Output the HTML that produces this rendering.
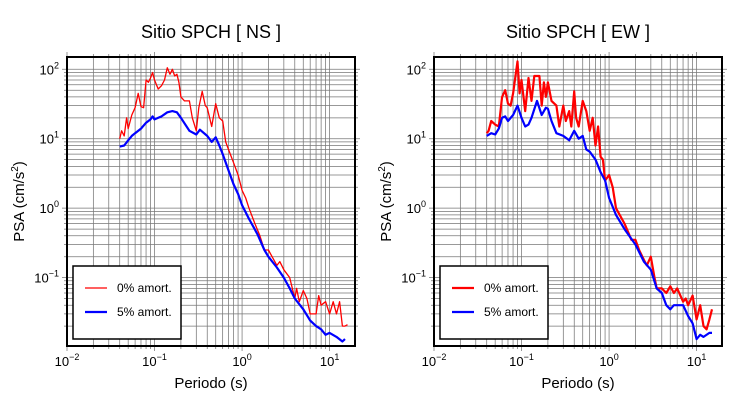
<!DOCTYPE html>
<html><head><meta charset="utf-8"><style>
body{margin:0;background:#fff}
svg{display:block;font-family:"Liberation Sans",sans-serif}
</style></head><body>
<svg id="c" width="730" height="400" xmlns="http://www.w3.org/2000/svg"></svg>
<script>
const nsT0=[0.04,0.042,0.045,0.048,0.05,0.055,0.06,0.065,0.07,0.075,0.08,0.085,0.09,0.095,0.1,0.11,0.12,0.13,0.14,0.15,0.16,0.17,0.18,0.19,0.2,0.22,0.25,0.27,0.3,0.32,0.35,0.38,0.4,0.45,0.5,0.55,0.6,0.65,0.7,0.8,0.9,1.0,1.1,1.2,1.4,1.6,1.8,2,2.2,2.5,2.7,3,3.5,4,4.2,4.5,5,5.5,6,7,7.5,8,9,10,11,12,13,14,15,16];
const nsV0=[10,13,11,20,14,22,28,45,29,28,70,65,75,90,70,52,58,70,105,85,100,80,85,65,40,35,35,20,13,28,48,30,28,15,32,20,18,9,7,4.5,3,1.8,1.4,1.0,0.6,0.4,0.25,0.25,0.2,0.15,0.17,0.13,0.1,0.05,0.07,0.045,0.065,0.05,0.03,0.03,0.055,0.04,0.045,0.03,0.045,0.03,0.045,0.02,0.02,0.021];
const nsT5=[0.04,0.045,0.05,0.055,0.06,0.07,0.08,0.09,0.095,0.1,0.12,0.14,0.16,0.18,0.2,0.25,0.3,0.33,0.4,0.45,0.5,0.55,0.6,0.7,0.8,0.9,1.0,1.2,1.5,1.8,2,2.5,3,3.5,4,5,6,7,8,9,10,12,14,15];
const nsV5=[7.7,8,9.5,11,12,14,17,19,21,19,21,24,25,24,20,13,11.5,13.5,11,9,10.5,8,6,3.5,2.2,1.6,1.1,0.7,0.42,0.25,0.2,0.14,0.1,0.07,0.05,0.035,0.024,0.02,0.018,0.015,0.016,0.014,0.012,0.013];
const ewT0=[0.04,0.042,0.045,0.05,0.055,0.06,0.065,0.07,0.075,0.08,0.09,0.095,0.1,0.11,0.12,0.13,0.14,0.15,0.16,0.17,0.18,0.19,0.2,0.22,0.25,0.27,0.3,0.32,0.35,0.37,0.4,0.42,0.45,0.5,0.55,0.6,0.65,0.7,0.75,0.8,0.85,0.9,1.0,1.1,1.2,1.5,1.8,2,2.2,2.5,2.7,3,3.3,3.5,4,4.5,5,5.5,6,7,7.5,8,9,10,11,12,13,14,15];
const ewV0=[12,13,18,16,15,40,50,32,30,45,130,45,70,25,75,35,80,80,80,30,65,40,65,35,30,15,30,18,25,15,48,20,15,35,25,13,20,8,15,5.5,5,2.5,3,2,1,0.6,0.35,0.35,0.25,0.18,0.15,0.2,0.1,0.07,0.07,0.06,0.075,0.06,0.07,0.045,0.05,0.04,0.055,0.025,0.04,0.02,0.018,0.025,0.035];
const ewT5=[0.04,0.045,0.05,0.055,0.06,0.065,0.07,0.08,0.09,0.1,0.11,0.12,0.13,0.15,0.17,0.19,0.2,0.22,0.25,0.3,0.35,0.4,0.45,0.5,0.55,0.6,0.7,0.8,0.9,1.0,1.2,1.5,2,2.5,3,3.5,4,4.5,5,5.5,6,7,8,9,10,11,12,14,15];
const ewV5=[11,12,11.5,14,20,21,18,22,30,20,15,16,20,35,22,28,27,18,12,11,9.5,13,10,11,7,6.5,5,3.3,2.5,1.4,0.8,0.5,0.3,0.17,0.13,0.07,0.06,0.04,0.035,0.04,0.04,0.04,0.028,0.022,0.013,0.015,0.014,0.016,0.016];
const titles=["Sitio SPCH [ NS ]","Sitio SPCH [ EW ]"];
const xTickExp=[-2,-1,0,1];
const yTickExp=[-1,0,1,2];

const NS="http://www.w3.org/2000/svg";
const svg=document.getElementById('c');
function mk(tag,attrs,parent){const e=document.createElementNS(NS,tag);for(const k in attrs)e.setAttribute(k,attrs[k]);(parent||svg).appendChild(e);return e;}
const XMIN=-2,XMAX=1.29,YMIN=-1.985,YMAX=2.177,TOP=57,BOT=346,W=288;
function panel(x0,title,t0,v0,t5,v5,redW,idx){
  const g=mk('g',{});
  
  
  const sx=v=>x0+(Math.log10(v)-XMIN)/(XMAX-XMIN)*W;
  const sy=v=>BOT-(Math.log10(v)-YMIN)/(YMAX-YMIN)*(BOT-TOP);
  const grid=mk('g',{stroke:'#777','stroke-width':0.75},g);
  
  
  for(let e=-2;e<=1;e++)for(let m=1;m<=9;m++){const v=m*Math.pow(10,e);if(Math.log10(v)>XMAX)continue;const x=sx(v);mk('line',{x1:x,x2:x,y1:TOP-(m==1?5:3),y2:BOT+(m==1?5:3)},grid);}
  for(let e=-2;e<=2;e++)for(let m=1;m<=9;m++){const v=m*Math.pow(10,e);const l=Math.log10(v);if(l<YMIN||l>YMAX)continue;const y=sy(v);mk('line',{x1:x0-(m==1?5:3),x2:x0+W+(m==1?5:3),y1:y,y2:y},grid);}
  const draw=(T,V,col,w,name)=>{const p=mk('polyline',{points:T.map((t,i)=>sx(t).toFixed(1)+','+sy(V[i]).toFixed(1)).join(' '),fill:'none',stroke:col,'stroke-width':w,'stroke-linejoin':'round'},g);};
  draw(t0,v0,'#f00',redW,'series-0pct');
  draw(t5,v5,'#00f',2.2,'series-5pct');
  const fr=mk('rect',{x:x0,y:TOP,width:W,height:BOT-TOP,fill:'none',stroke:'#000','stroke-width':2},g);
  
  xTickExp.forEach(e=>{const t=mk('text',{x:sx(Math.pow(10,e)),y:BOT+20,'text-anchor':'middle','font-size':13},g);t.textContent='10';const s=mk('tspan',{dy:-6,'font-size':9},t);s.textContent=e<0?'−'+(-e):''+e;});
  yTickExp.forEach(e=>{const t=mk('text',{x:x0-8,y:sy(Math.pow(10,e))+5,'text-anchor':'end','font-size':13},g);t.textContent='10';const s=mk('tspan',{dy:-6,'font-size':9},t);s.textContent=e<0?'−'+(-e):''+e;});
  const tt=mk('text',{x:x0+W/2,y:38,'text-anchor':'middle','font-size':18},g);tt.textContent=title;
  
  const xl=mk('text',{x:x0+W/2,y:388,'text-anchor':'middle','font-size':15},g);xl.textContent='Periodo (s)';
  
  const yl=mk('text',{transform:`translate(${x0-43},${(TOP+BOT)/2}) rotate(-90)`,'text-anchor':'middle','font-size':15},g);yl.textContent='PSA (cm/s';
  const sp=mk('tspan',{dy:-6,'font-size':10},yl);sp.textContent='2';const sp2=mk('tspan',{dy:6},yl);sp2.textContent=')';
  
  const lg=mk('g',{},g);
  mk('rect',{x:x0+6,y:266,width:108,height:73,fill:'#fff',stroke:'#000','stroke-width':1.5},lg);
  mk('line',{x1:x0+18,x2:x0+40,y1:288,y2:288,stroke:'#f00','stroke-width':redW},lg);
  mk('line',{x1:x0+18,x2:x0+40,y1:312,y2:312,stroke:'#00f','stroke-width':2.2},lg);
  const a=mk('text',{x:x0+50,y:292,'font-size':12},lg);a.textContent='0% amort.';
  
  const b=mk('text',{x:x0+50,y:316,'font-size':12},lg);b.textContent='5% amort.';
  
}
panel(67,titles[0],nsT0,nsV0,nsT5,nsV5,1.3,'ns');
panel(434,titles[1],ewT0,ewV0,ewT5,ewV5,2.2,'ew');
</script>
</body></html>
